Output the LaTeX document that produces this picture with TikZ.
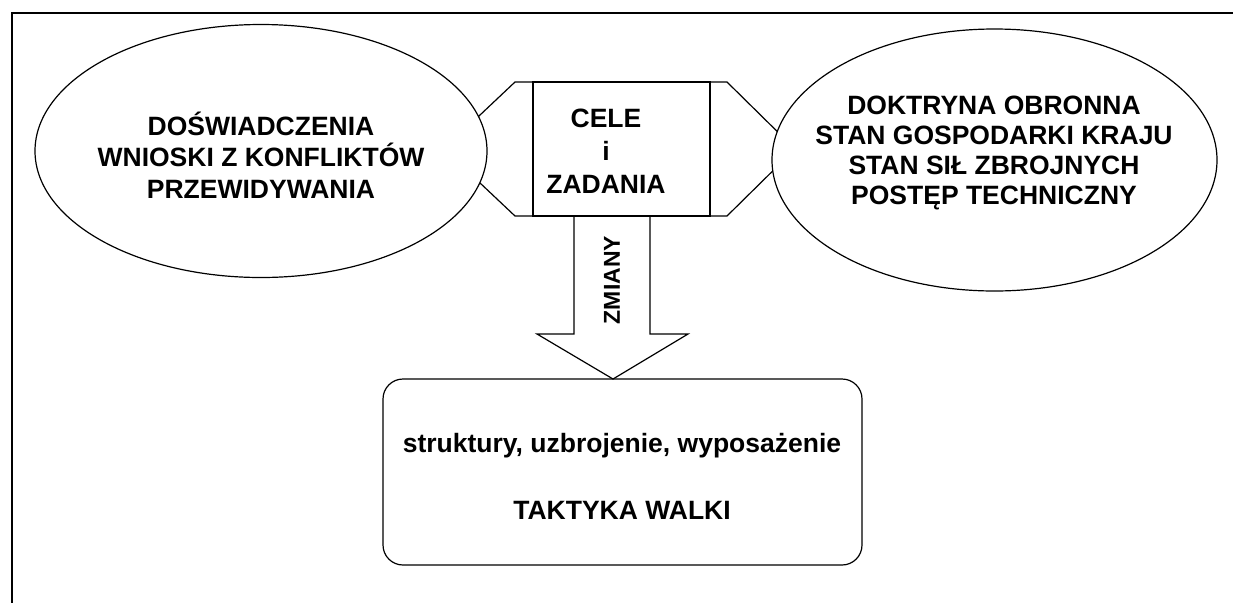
\documentclass[tikz,border=0pt]{standalone}
\usepackage{fontspec}
\setmainfont{Liberation Sans}
\usetikzlibrary{shapes.geometric}
\begin{document}
\begin{tikzpicture}[x=1pt,y=-1pt,
  line width=1.2pt,
  lbl/.style={font=\fontsize{26.5}{31.5}\selectfont\bfseries, align=center, inner sep=0pt},
  oval/.style={draw, ellipse, fill=white, inner sep=0pt},
  box/.style={draw, rectangle, inner sep=0pt}
]
\useasboundingbox (0,0) rectangle (1233,603);
% frame (top and left edges)
\coordinate (f1) at (1233,13);
\coordinate (f2) at (12,13);
\coordinate (f3) at (12,603);
\draw[line width=2.4pt] (f1) -- (f2) -- (f3);

% central hexagon
\node[box, minimum width=177pt, minimum height=134pt] (C) at (621.5,149) {};
\coordinate (h1) at (444,149);
\coordinate (h2) at (515,82);
\coordinate (h3) at (727,82);
\coordinate (h4) at (795,149);
\coordinate (h5) at (727,216);
\coordinate (h6) at (515,216);
\draw (h1) -- (h2) -- (h3) -- (h4) -- (h5) -- (h6) -- cycle;
\node[lbl, font=\fontsize{26.5}{33}\selectfont\bfseries] (Ct) at (606,151) {CELE\\i\\ZADANIA};

% ellipses
\node[oval, minimum width=452pt, minimum height=253pt] (L) at (261,151) {};
\node[lbl] (Lt) at (261,155) {DOŚWIADCZENIA\\WNIOSKI Z KONFLIKTÓW\\PRZEWIDYWANIA};
\node[oval, minimum width=445pt, minimum height=262pt] (R) at (994.5,160) {};
\node[lbl, font=\fontsize{26.5}{30}\selectfont\bfseries] (Rt) at (994,153) {DOKTRYNA OBRONNA\\STAN GOSPODARKI KRAJU\\STAN SIŁ ZBROJNYCH\\POSTĘP TECHNICZNY};

% bottom box
\node[draw, rounded corners=20pt, minimum width=479pt, minimum height=186pt, inner sep=0pt] (B) at (622.5,472) {};
\node[lbl] (Bt1) at (622,446) {struktury, uzbrojenie, wyposażenie};
\node[lbl] (Bt2) at (622,510) {TAKTYKA WALKI};

% big arrow
\coordinate (a1) at (574,216);
\coordinate (a2) at (574,334);
\coordinate (a3) at (537,334);
\coordinate (a4) at (613,379);
\coordinate (a5) at (688,334);
\coordinate (a6) at (650,334);
\coordinate (a7) at (650,216);
\draw[line join=miter] (a1) -- (a2) -- (a3) -- (a4) -- (a5) -- (a6) -- (a7);
\node[lbl, font=\fontsize{23}{26}\selectfont\bfseries, rotate=90] (Z) at (612,280) {ZMIANY};
\end{tikzpicture}
\end{document}
